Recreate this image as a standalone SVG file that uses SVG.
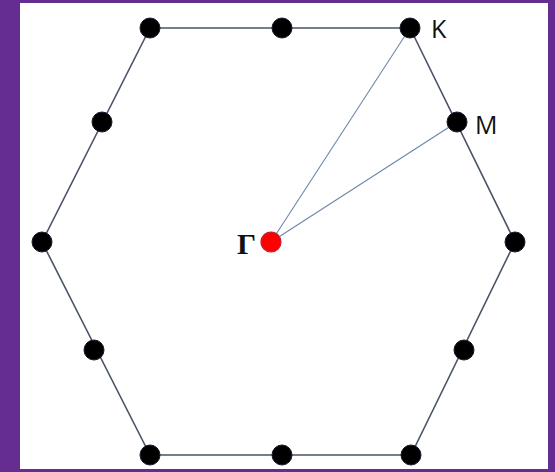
<svg xmlns="http://www.w3.org/2000/svg" width="555" height="472" viewBox="0 0 555 472">
<style>
.pt{fill:#000;stroke:#1a1a2a;stroke-width:1}
.edge{fill:none;stroke:#4a5468;stroke-width:1.6}
.ray{fill:none;stroke:#6d86a8;stroke-width:1.1}
.lbl{font-family:"Open Sans","Liberation Sans",sans-serif;font-size:25px;fill:#111}
</style>
<rect x="0" y="0" width="555" height="472" fill="#662d91"/>
<rect x="20" y="3" width="528" height="466" fill="#fff"/>
<g id="connectors">
<polygon class="edge" points="150,28 410,28 515,242 411,455 150,455 42,242"/>
<line class="ray" x1="271" y1="242" x2="410" y2="28"/>
<line class="ray" x1="271" y1="242" x2="457" y2="122"/>
</g>
<g id="n1"><circle class="pt" cx="150" cy="28" r="10"/></g>
<g id="n2"><circle class="pt" cx="282" cy="28" r="10"/></g>
<g id="K"><circle class="pt" cx="410" cy="28" r="10"/><text class="lbl" x="431" y="38">K</text></g>
<g id="n4"><circle class="pt" cx="102" cy="122" r="10"/></g>
<g id="M"><circle class="pt" cx="457" cy="122" r="10"/><text class="lbl" x="475" y="134">M</text></g>
<g id="n6"><circle class="pt" cx="42" cy="242" r="10"/></g>
<g id="n7"><circle class="pt" cx="515" cy="242" r="10"/></g>
<g id="n8"><circle class="pt" cx="94" cy="350" r="10"/></g>
<g id="n9"><circle class="pt" cx="464" cy="350" r="10"/></g>
<g id="n10"><circle class="pt" cx="150" cy="455" r="10"/></g>
<g id="n11"><circle class="pt" cx="282" cy="455" r="10"/></g>
<g id="n12"><circle class="pt" cx="411" cy="455" r="10"/></g>
<g id="Gamma"><circle cx="271" cy="242" r="10" fill="#ff0000" stroke="#c02030" stroke-width="1.2"/><text x="237" y="254" font-family="'Liberation Serif',serif" font-size="30" font-weight="bold" fill="#111">Γ</text></g>
</svg>
